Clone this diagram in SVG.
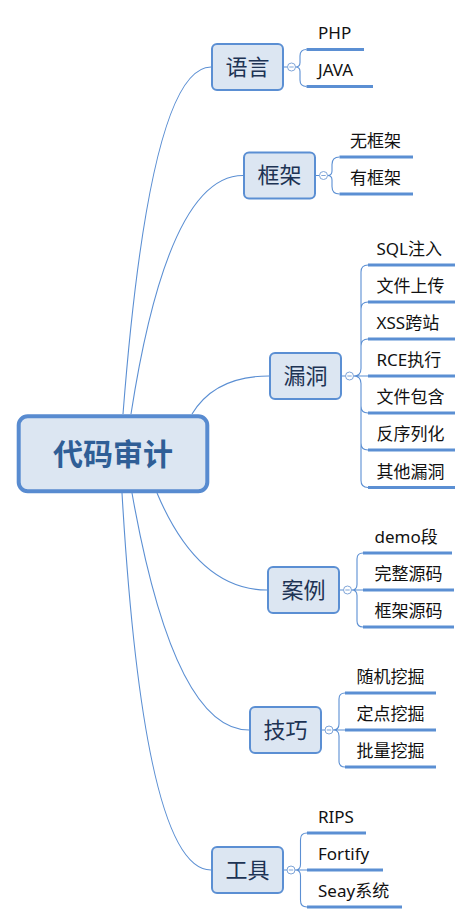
<svg xmlns="http://www.w3.org/2000/svg" width="474" height="924" viewBox="0 0 474 924">
<style>
.bg{fill:#ffffff}
.main{fill:none;stroke:#5b8fd3;stroke-width:1.1}
.sub{fill:none;stroke:#5b8fd3;stroke-width:1.1}
.ul{fill:none;stroke:#5b8fd3;stroke-width:3}
.box{fill:#dce6f2;stroke:#5b8fd3;stroke-width:2}
.root{fill:#dce6f2;stroke:#588bd0;stroke-width:4}
.col{fill:#ffffff;stroke:#7fa5d8;stroke-width:1}
.minus{stroke:#7fa5d8;stroke-width:1}
.nt{font-family:"Noto Sans CJK SC","Noto Sans",sans-serif;font-size:22px;fill:#1d3354;text-anchor:middle}
.rt{font-family:"Noto Sans CJK SC","Noto Sans",sans-serif;font-size:30px;font-weight:bold;fill:#2f5e96;text-anchor:middle}
.ct{font-family:"Noto Sans","Noto Sans CJK SC",sans-serif;font-size:17px;fill:#111111}
</style>
<rect class="bg" x="0" y="0" width="474" height="924"/>
<g id="connectors">
<path class="main" d="M123 414 Q150 67 211 67"/>
<path class="main" d="M131 414 Q168 175.5 243 175.5"/>
<path class="main" d="M192 414 Q215 376 269 376"/>
<path class="main" d="M157 493 Q198 590 267 590"/>
<path class="main" d="M132 493 Q174 730 249 730"/>
<path class="main" d="M122 493 Q144 870 211 870"/>
<path class="sub" d="M284 67 H287.5 M295.5 67 Q300 67 300 62.5 L300 56 Q300 49.5 306.5 49.5 M295.5 67 Q300 67 300 71.5 L300 80 Q300 86.5 306.5 86.5"/>
<path class="ul" d="M306.5 49.5 H364 M306.5 86.5 H373"/>
<path class="sub" d="M316 175.5 H319.5 M327.5 175.5 Q332 175.5 332 171 L332 164.5 Q332 157 339.5 157 M327.5 175.5 Q332 175.5 332 180 L332 186.5 Q332 194 339.5 194"/>
<path class="ul" d="M339.5 157 H413 M339.5 194 H413"/>
<path class="sub" d="M342 376 H345.5 M353.5 376 Q361 376 361 368.5 L361 272 Q361 265 368 265 M353.5 376 Q361 376 361 368.5 L361 309 Q361 302 368 302 M353.5 376 Q361 376 361 368.5 L361 346 Q361 339 368 339 M353.5 376 L368 376 M353.5 376 Q361 376 361 383.5 L361 406 Q361 413 368 413 M353.5 376 Q361 376 361 383.5 L361 443 Q361 450 368 450 M353.5 376 Q361 376 361 383.5 L361 480.5 Q361 487.5 368 487.5"/>
<path class="ul" d="M368 265 H455 M368 302 H455 M368 339 H455 M368 376 H455 M368 413 H455 M368 450 H455 M368 487.5 H455"/>
<path class="sub" d="M340 590 H343.5 M351.5 590 Q357 590 357 584.5 L357 559 Q357 553 363 553 M351.5 590 L363 590 M351.5 590 Q357 590 357 595.5 L357 621 Q357 627 363 627"/>
<path class="ul" d="M363 553 H452 M363 590 H454 M363 627 H454"/>
<path class="sub" d="M322 730 H325 M333 730 Q339 730 339 724 L339 699 Q339 693 345 693 M333 730 L345 730 M333 730 Q339 730 339 736 L339 761 Q339 767 345 767"/>
<path class="ul" d="M345 693 H436 M345 730 H436 M345 767 H436"/>
<path class="sub" d="M284 870 H287 M295 870 Q300.5 870 300.5 864.5 L300.5 839.5 Q300.5 833 307 833 M295 870 L307 870 M295 870 Q300.5 870 300.5 875.5 L300.5 900.5 Q300.5 907 307 907"/>
<path class="ul" d="M307 833 H366 M307 870 H383 M307 907 H402"/>
</g>
<g id="root">
<rect class="root" x="18.7" y="416.3" width="188.6" height="75" rx="9"/>
<text class="rt" x="113" y="465">代码审计</text>
</g>
<g id="n-yuyan">
<rect class="box" x="212" y="44" width="71" height="46" rx="5"/>
<text class="nt" x="247.5" y="74.5">语言</text>
<circle class="col" cx="291.5" cy="67" r="4"/><path class="minus" d="M289.3 67 H293.7"/>
<text class="ct" x="318" y="38.5">PHP</text>
<text class="ct" x="318" y="75.5">JAVA</text>
</g>
<g id="n-kuangjia">
<rect class="box" x="244" y="152.5" width="71" height="46" rx="5"/>
<text class="nt" x="279.5" y="183">框架</text>
<circle class="col" cx="323.5" cy="175.5" r="4"/><path class="minus" d="M321.3 175.5 H325.7"/>
<text class="ct" x="350" y="147">无框架</text>
<text class="ct" x="350" y="184">有框架</text>
</g>
<g id="n-loudong">
<rect class="box" x="270" y="353" width="71" height="46" rx="5"/>
<text class="nt" x="305.5" y="383.5">漏洞</text>
<circle class="col" cx="349.5" cy="376" r="4"/><path class="minus" d="M347.3 376 H351.7"/>
<text class="ct" x="376.5" y="255">SQL注入</text>
<text class="ct" x="376.5" y="292">文件上传</text>
<text class="ct" x="376.5" y="329">XSS跨站</text>
<text class="ct" x="376.5" y="366">RCE执行</text>
<text class="ct" x="376.5" y="403">文件包含</text>
<text class="ct" x="376.5" y="440">反序列化</text>
<text class="ct" x="376.5" y="477.5">其他漏洞</text>
</g>
<g id="n-anli">
<rect class="box" x="268" y="567" width="71" height="46" rx="5"/>
<text class="nt" x="303.5" y="597.5">案例</text>
<circle class="col" cx="347.5" cy="590" r="4"/><path class="minus" d="M345.3 590 H349.7"/>
<text class="ct" x="374.5" y="543">demo段</text>
<text class="ct" x="374.5" y="580">完整源码</text>
<text class="ct" x="374.5" y="617">框架源码</text>
</g>
<g id="n-jiqiao">
<rect class="box" x="250" y="707" width="71" height="46" rx="5"/>
<text class="nt" x="285.5" y="737.5">技巧</text>
<circle class="col" cx="329" cy="730" r="4"/><path class="minus" d="M326.8 730 H331.2"/>
<text class="ct" x="356.5" y="683">随机挖掘</text>
<text class="ct" x="356.5" y="720">定点挖掘</text>
<text class="ct" x="356.5" y="757">批量挖掘</text>
</g>
<g id="n-gongju">
<rect class="box" x="212" y="847" width="71" height="46" rx="5"/>
<text class="nt" x="247.5" y="877.5">工具</text>
<circle class="col" cx="291" cy="870" r="4"/><path class="minus" d="M288.8 870 H293.2"/>
<text class="ct" x="318" y="823">RIPS</text>
<text class="ct" x="318" y="860">Fortify</text>
<text class="ct" x="318" y="897">Seay系统</text>
</g>
</svg>
